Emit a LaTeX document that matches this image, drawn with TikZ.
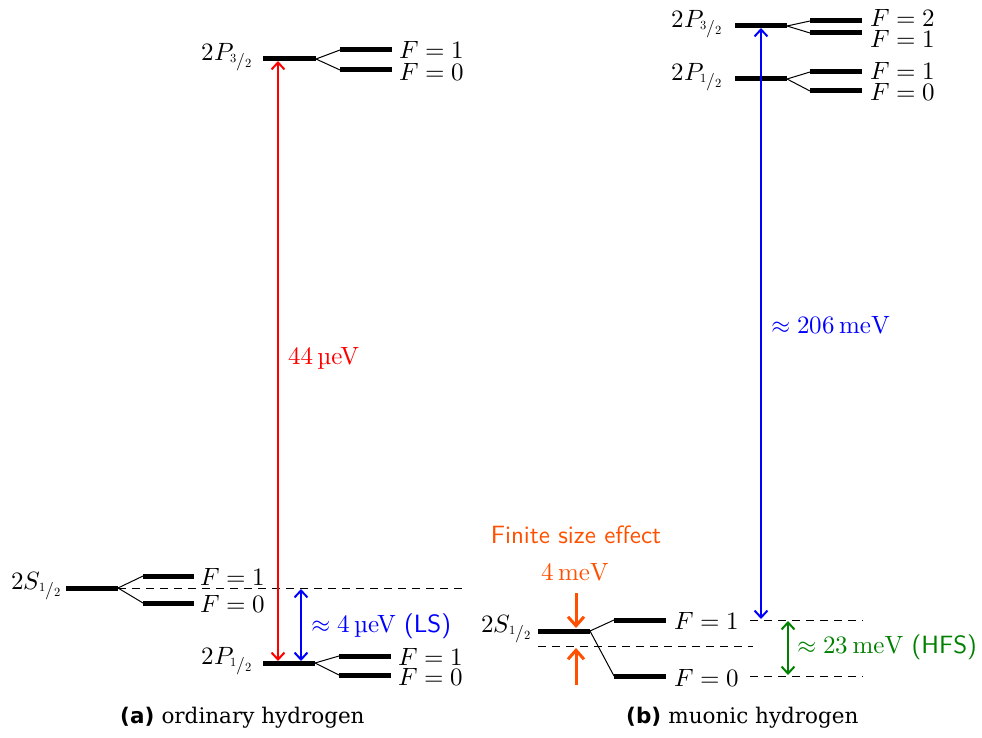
\documentclass[tikz,border=0pt]{standalone}
\usepackage{fontspec}
\usepackage{unicode-math}
\setmainfont{lmroman10-regular.otf}[BoldFont=lmroman10-bold.otf,ItalicFont=lmroman10-italic.otf]
\setsansfont{lmsans10-regular.otf}[BoldFont=lmsans10-bold.otf]
\setmathfont{Latin Modern Math}
\usetikzlibrary{arrows.meta}
\newfontfamily\capfont{DejaVu Serif}
\newfontfamily\capbold{DejaVu Sans}
\newcommand\hfr[2]{\raisebox{0.35ex}{$\scriptscriptstyle #1$}/\raisebox{-0.1ex}{$\scriptscriptstyle #2$}}
\definecolor{fsorange}{RGB}{255,80,0}
\definecolor{hfsgreen}{RGB}{0,128,0}
\tikzset{
  lev/.style={line width=5pt},
  spl/.style={line width=1pt},
  dsh/.style={line width=1pt, dash pattern=on 8pt off 6pt},
  arr/.style={line width=2pt, {Straight Barb[length=7pt,width=13pt]}-{Straight Barb[length=7pt,width=13pt]}},
  fsarr/.style={line width=3pt, -{Straight Barb[length=9pt,width=16pt]}, fsorange},
  txt/.style={inner sep=0pt, font=\fontsize{25}{29}\selectfont},
  captxt/.style={inner sep=0pt, font=\fontsize{21.5}{25}\selectfont},
}
\begin{document}
\begin{tikzpicture}[x=1pt,y=-1pt]
\useasboundingbox (0,0) rectangle (982,738);
% ---------------- left panel ----------------
% 2P3/2
\coordinate (aP3a) at (263,59); \coordinate (aP3b) at (316,59);
\coordinate (aP3Fa) at (340,50); \coordinate (aP3Fb) at (392,50);
\coordinate (aP3Ga) at (340,70); \coordinate (aP3Gb) at (392,70);
\draw[lev] (aP3a) -- (aP3b);
\draw[lev] (aP3Fa) -- (aP3Fb);
\draw[lev] (aP3Ga) -- (aP3Gb);
\draw[spl] (aP3b) -- (aP3Fa);
\draw[spl] (aP3b) -- (aP3Ga);
\node[txt,anchor=east] (laP3) at (252,57) {$2P_{\hfr{3}{2}}$};
\node[txt,anchor=west] (laP3F1) at (399,50) {$F=1$};
\node[txt,anchor=west] (laP3F0) at (399,72) {$F=0$};
% 2S1/2
\coordinate (aSa) at (66,588); \coordinate (aSb) at (118,588);
\coordinate (aSFa) at (143,576); \coordinate (aSFb) at (194,576);
\coordinate (aSGa) at (143,603); \coordinate (aSGb) at (194,603);
\draw[lev] (aSa) -- (aSb);
\draw[lev] (aSFa) -- (aSFb);
\draw[lev] (aSGa) -- (aSGb);
\draw[spl] (aSb) -- (aSFa);
\draw[spl] (aSb) -- (aSGa);
\coordinate (aSd) at (463,588);
\draw[dsh] (aSb) -- (aSd);
\node[txt,anchor=east] (laS) at (61,586) {$2S_{\hfr{1}{2}}$};
\node[txt,anchor=west] (laSF1) at (200,577) {$F=1$};
\node[txt,anchor=west] (laSF0) at (200,604) {$F=0$};
% 2P1/2
\coordinate (aP1a) at (263,663); \coordinate (aP1b) at (315,663);
\coordinate (aP1Fa) at (339,656); \coordinate (aP1Fb) at (391,656);
\coordinate (aP1Ga) at (339,675); \coordinate (aP1Gb) at (391,675);
\draw[lev] (aP1a) -- (aP1b);
\draw[lev] (aP1Fa) -- (aP1Fb);
\draw[lev] (aP1Ga) -- (aP1Gb);
\draw[spl] (aP1b) -- (aP1Fa);
\draw[spl] (aP1b) -- (aP1Ga);
\node[txt,anchor=east] (laP1) at (252,661) {$2P_{\hfr{1}{2}}$};
\node[txt,anchor=west] (laP1F1) at (398,657) {$F=1$};
\node[txt,anchor=west] (laP1F0) at (398,677) {$F=0$};
% arrows
\coordinate (rTop) at (278,61); \coordinate (rBot) at (278,661);
\draw[arr, red] (rTop) -- (rBot);
\node[txt,anchor=west,red] (l44) at (288,358) {44\,µeV};
\coordinate (bTop) at (301,589); \coordinate (bBot) at (301,661);
\draw[arr, blue] (bTop) -- (bBot);
\node[txt,anchor=west,blue] (lLS) at (311,626) {$\approx 4$\,µeV \textsf{(LS)}};
\node[captxt,anchor=west] (capa) at (120,718) {{\capbold\bfseries (a)}\ {\capfont ordinary hydrogen}};
% ---------------- right panel ----------------
% 2P3/2
\coordinate (bP3a) at (735,26); \coordinate (bP3b) at (787,26);
\coordinate (bP3Fa) at (810,21); \coordinate (bP3Fb) at (862,21);
\coordinate (bP3Ga) at (810,33); \coordinate (bP3Gb) at (862,33);
\draw[lev] (bP3a) -- (bP3b);
\draw[lev] (bP3Fa) -- (bP3Fb);
\draw[lev] (bP3Ga) -- (bP3Gb);
\draw[spl] (bP3b) -- (bP3Fa);
\draw[spl] (bP3b) -- (bP3Ga);
\node[txt,anchor=east] (lbP3) at (722,24) {$2P_{\hfr{3}{2}}$};
\node[txt,anchor=west] (lbP3F2) at (870,18) {$F=2$};
\node[txt,anchor=west] (lbP3F1) at (870,39) {$F=1$};
% 2P1/2
\coordinate (bP1a) at (735,79); \coordinate (bP1b) at (787,79);
\coordinate (bP1Fa) at (810,72); \coordinate (bP1Fb) at (862,72);
\coordinate (bP1Ga) at (810,91); \coordinate (bP1Gb) at (862,91);
\draw[lev] (bP1a) -- (bP1b);
\draw[lev] (bP1Fa) -- (bP1Fb);
\draw[lev] (bP1Ga) -- (bP1Gb);
\draw[spl] (bP1b) -- (bP1Fa);
\draw[spl] (bP1b) -- (bP1Ga);
\node[txt,anchor=east] (lbP1) at (722,77) {$2P_{\hfr{1}{2}}$};
\node[txt,anchor=west] (lbP1F1) at (870,71) {$F=1$};
\node[txt,anchor=west] (lbP1F0) at (870,92) {$F=0$};
% 2S1/2
\coordinate (bSa) at (538,631); \coordinate (bSb) at (590,631);
\coordinate (bSFa) at (614,620); \coordinate (bSFb) at (666,620);
\coordinate (bSGa) at (614,676); \coordinate (bSGb) at (666,676);
\draw[lev] (bSa) -- (bSb);
\draw[lev] (bSFa) -- (bSFb);
\draw[lev] (bSGa) -- (bSGb);
\draw[spl] (bSb) -- (bSFa);
\draw[spl] (bSb) -- (bSGa);
\node[txt,anchor=east] (lbS) at (531,629) {$2S_{\hfr{1}{2}}$};
\node[txt,anchor=west] (lbSF1) at (674,621) {$F=1$};
\node[txt,anchor=west] (lbSF0) at (674,678) {$F=0$};
% dashed
\coordinate (dMa) at (538,646); \coordinate (dMb) at (753,646);
\draw[dsh] (dMa) -- (dMb);
\coordinate (dUa) at (750,620); \coordinate (dUb) at (863,620);
\draw[dsh] (dUa) -- (dUb);
\coordinate (dLa) at (750,676); \coordinate (dLb) at (863,676);
\draw[dsh] (dLa) -- (dLb);
% arrows
\coordinate (b2Top) at (761,28); \coordinate (b2Bot) at (761,619);
\draw[arr, blue] (b2Top) -- (b2Bot);
\node[txt,anchor=west,blue] (l206) at (771,325) {$\approx 206\,\mathrm{meV}$};
\coordinate (gTop) at (788,621); \coordinate (gBot) at (788,675);
\draw[arr, hfsgreen] (gTop) -- (gBot);
\node[txt,anchor=west,hfsgreen] (lHFS) at (797,647) {$\approx 23\,\mathrm{meV}$ \textsf{(HFS)}};
% finite size
\coordinate (oTa) at (576,593); \coordinate (oTb) at (576,628);
\draw[fsarr] (oTa) -- (oTb);
\coordinate (oBa) at (576,685); \coordinate (oBb) at (576,648);
\draw[fsarr] (oBa) -- (oBb);
\node[txt,fsorange] (l4) at (575,572) {$4\,\mathrm{meV}$};
\node[txt,fsorange] (lFS) at (576,535) {\textsf{Finite size effect}};
\node[captxt,anchor=west] (capb) at (626,718) {{\capbold\bfseries (b)}\ {\capfont muonic hydrogen}};
\end{tikzpicture}
\end{document}
